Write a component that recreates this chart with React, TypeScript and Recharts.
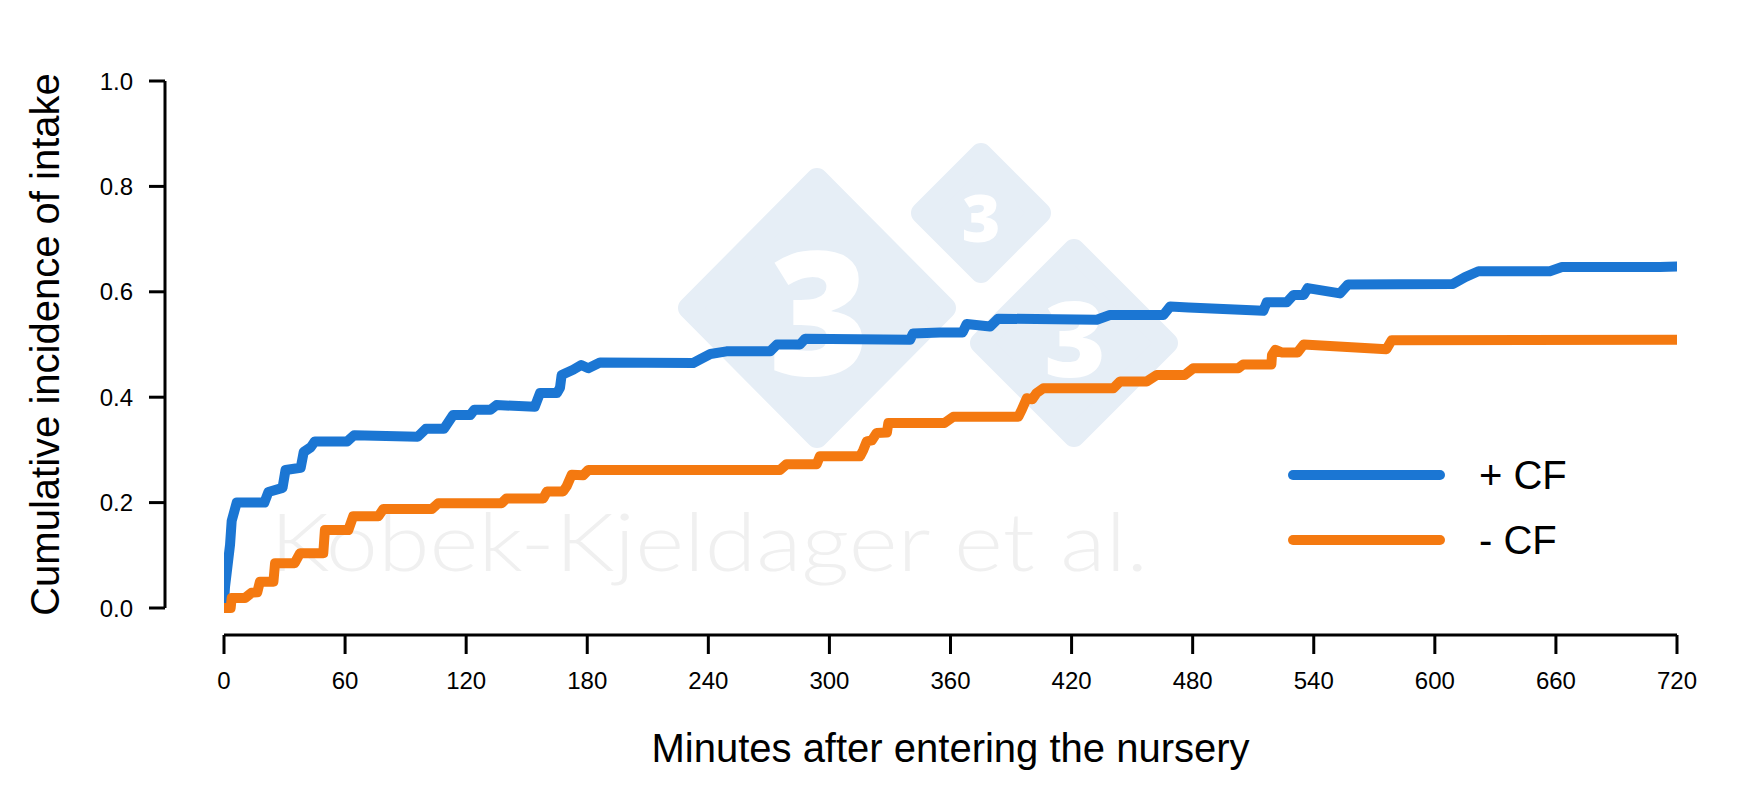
import React from 'react';
import { LineChart, Line, XAxis, YAxis, Legend } from 'recharts';

// ---------- data ----------
const minuteTicks = [0, 60, 120, 180, 240, 300, 360, 420, 480, 540, 600, 660, 720];
const incidenceTicks = [0, 0.2, 0.4, 0.6, 0.8, 1.0];

const seriesNames = ['+ CF', '- CF'];
const seriesColors = ['#1b76d3', '#f47910'];

const xTitle = 'Minutes after entering the nursery';
const yTitle = 'Cumulative incidence of intake';
const watermarkText = 'Kobek-Kjeldager et al.';
const watermarkDigit = '3';

const plusCfMinutes = [
  0, 0.5, 3, 3.8, 6.3, 20, 22, 29, 30.5, 38, 39.5, 43, 45, 61, 64.5, 96, 100, 109, 113.5,
  122, 124, 132, 135, 154, 156.6, 165, 166.5, 167.3, 173, 177, 180.5, 186.3, 232.5, 236,
  241, 249, 270.6, 274, 285.4, 288, 340, 341.4, 354.8, 366, 368, 379.6, 383.6, 432.5, 439,
  465.5, 468.8, 478, 515, 516.7, 526.6, 530, 535, 537, 553, 557, 609, 615, 621.6, 657, 663,
  711.6, 720,
];
const plusCfIncidence = [
  0.01, 0.04, 0.12, 0.165, 0.2, 0.2, 0.22, 0.228, 0.262, 0.266, 0.296, 0.305, 0.316, 0.316,
  0.328, 0.325, 0.34, 0.34, 0.366, 0.366, 0.376, 0.376, 0.385, 0.382, 0.408, 0.408, 0.418,
  0.442, 0.452, 0.461, 0.455, 0.466, 0.465, 0.472, 0.482, 0.487, 0.487, 0.5, 0.5, 0.511,
  0.509, 0.521, 0.523, 0.523, 0.539, 0.534, 0.549, 0.547, 0.556, 0.556, 0.572, 0.57, 0.564,
  0.58, 0.58, 0.594, 0.594, 0.607, 0.597, 0.614, 0.615, 0.628, 0.639, 0.639, 0.647, 0.647,
  0.648,
];

const minusCfMinutes = [
  0, 3.3, 3.8, 10.4, 13.7, 16.5, 17.8, 24.5, 25.3, 35, 37.7, 49.2, 50, 61.6, 64, 76.5, 79,
  103, 106.2, 137.6, 140, 158.2, 160, 168, 169.8, 172.3, 178, 180.5, 275.5, 278.8, 293.7,
  295.3, 315.2, 316.8, 318.5, 321, 323.4, 328.5, 329.2, 357, 361.4, 393.6, 395.3, 397.8,
  400.5, 402.7, 406, 440.7, 444, 457.2, 462.2, 476, 480.3, 502.6, 505, 519, 519.3, 521,
  524, 532, 535, 576, 578.6, 720,
];
const minusCfIncidence = [
  0, 0, 0.019, 0.019, 0.029, 0.03, 0.05, 0.05, 0.085, 0.085, 0.104, 0.104, 0.148, 0.148,
  0.174, 0.174, 0.188, 0.188, 0.199, 0.199, 0.208, 0.208, 0.221, 0.221, 0.231, 0.253, 0.252,
  0.262, 0.262, 0.273, 0.273, 0.288, 0.288, 0.3, 0.316, 0.318, 0.332, 0.333, 0.351, 0.351,
  0.363, 0.363, 0.376, 0.398, 0.396, 0.408, 0.417, 0.417, 0.43, 0.43, 0.442, 0.442, 0.455,
  0.455, 0.462, 0.462, 0.48, 0.49, 0.485, 0.485, 0.5, 0.491, 0.508, 0.509,
];

const plusData = plusCfMinutes.map((t, i) => ({ t, v: plusCfIncidence[i] }));
const minusData = minusCfMinutes.map((t, i) => ({ t, v: minusCfIncidence[i] }));

// ---------- styling ----------
const FONT = '"Liberation Sans", Arial, Helvetica, sans-serif';
const W = 1753;
const H = 807;

function YTitle(props: any) {
  const vb = props.viewBox || { x: 35, y: 81, width: 130, height: 527 };
  const x = vb.x + 24;
  const y = vb.y + vb.height / 2;
  return (
    <text
      x={x}
      y={y}
      transform={`rotate(-90, ${x}, ${y})`}
      textAnchor="middle"
      fontSize={40}
      fontFamily={FONT}
      fill="#000"
    >
      {yTitle}
    </text>
  );
}

function XTitle(props: any) {
  const vb = props.viewBox || { x: 224, y: 635, width: 1453, height: 150 };
  return (
    <text
      x={vb.x + vb.width / 2}
      y={vb.y + 127}
      textAnchor="middle"
      fontSize={40}
      fontFamily={FONT}
      fill="#000"
    >
      {xTitle}
    </text>
  );
}

function LegendContent(props: any) {
  const items = props.payload || [];
  return (
    <div style={{ display: 'flex', flexDirection: 'column' }}>
      {items.map((item: any, i: number) => (
        <div key={i} style={{ display: 'flex', alignItems: 'center', height: 65 }}>
          <svg width={190} height={20} style={{ display: 'block' }}>
            <line x1={10} y1={10} x2={157} y2={10} stroke={item.color} strokeWidth={10} strokeLinecap="round" />
          </svg>
          <span style={{ marginLeft: 6, fontSize: 40, fontFamily: FONT, color: '#000', lineHeight: '40px' }}>
            {item.value}
          </span>
        </div>
      ))}
    </div>
  );
}

function diamond(cx: number, cy: number, hw: number, hh: number, s: number) {
  const a = hw - s / 2;
  const b = hh - s / 2;
  return `${cx},${cy - b} ${cx + a},${cy} ${cx},${cy + b} ${cx - a},${cy}`;
}

function Watermark() {
  const fill = '#e6eef6';
  const s = 22;
  const digitFont = '"Open Sans", sans-serif';
  return (
    <svg width={W} height={H} style={{ position: 'absolute', left: 0, top: 0 }}>
      <polygon points={diamond(817, 308, 139, 140, s)} fill={fill} stroke={fill} strokeWidth={s} strokeLinejoin="round" />
      <polygon points={diamond(981, 213, 70, 70, s)} fill={fill} stroke={fill} strokeWidth={s} strokeLinejoin="round" />
      <polygon points={diamond(1074, 343, 104, 104, s)} fill={fill} stroke={fill} strokeWidth={s} strokeLinejoin="round" />
      <text x={819} y={308} textAnchor="middle" dominantBaseline="central" fontSize={172} fontWeight={800} fontFamily={digitFont} fill="#ffffff">
        {watermarkDigit}
      </text>
      <text x={981} y={216} textAnchor="middle" dominantBaseline="central" fontSize={66} fontWeight={800} fontFamily={digitFont} fill="#ffffff">
        {watermarkDigit}
      </text>
      <text x={1075} y={336} textAnchor="middle" dominantBaseline="central" fontSize={105} fontWeight={800} fontFamily={digitFont} fill="#ffffff">
        {watermarkDigit}
      </text>
      <text x={270} y={571} textLength={878} lengthAdjust="spacingAndGlyphs" fontSize={80} fontWeight={300} fontFamily='"Lato", "Open Sans", sans-serif' fill="#f0f0f0">
        {watermarkText}
      </text>
    </svg>
  );
}

export default function App() {
  const tickStyle = { fontSize: 24, fill: '#000', fontFamily: FONT };
  const axisStroke = { stroke: '#000', strokeWidth: 3 };
  return (
    <div style={{ position: 'absolute', left: 0, top: 0, width: W, height: H, background: '#fff', fontFamily: FONT }}>
      <Watermark />
      <div style={{ position: 'absolute', left: 0, top: 0 }}>
        <LineChart width={W} height={H} margin={{ top: 81, right: 76, bottom: 22, left: 35 }}>
          <XAxis xAxisId="a_pad" type="number" domain={[0, 1]} height={27} tick={false} axisLine={false} tickLine={false} />
          <XAxis
            xAxisId="b_main"
            type="number"
            dataKey="t"
            domain={[0, 720]}
            ticks={minuteTicks}
            allowDataOverflow
            height={150}
            tick={tickStyle}
            tickSize={19}
            tickMargin={18}
            axisLine={axisStroke}
            tickLine={axisStroke}
            label={{ content: XTitle }}
          />
          <YAxis yAxisId="a_pad" type="number" domain={[0, 1]} width={59} tick={false} axisLine={false} tickLine={false} />
          <YAxis
            yAxisId="b_main"
            type="number"
            domain={[0, 1]}
            ticks={incidenceTicks}
            width={130}
            tick={tickStyle}
            tickFormatter={(v: number) => v.toFixed(1)}
            tickSize={16}
            tickMargin={16}
            axisLine={axisStroke}
            tickLine={axisStroke}
            label={{ content: YTitle }}
          />
          <Legend
            layout="vertical"
            align="center"
            verticalAlign="middle"
            content={<LegendContent />}
            wrapperStyle={{ left: 1283, top: 442, width: 'auto', height: 'auto' }}
          />
          <Line
            xAxisId="b_main"
            yAxisId="b_main"
            data={plusData}
            dataKey="v"
            name={seriesNames[0]}
            type="linear"
            stroke={seriesColors[0]}
            strokeWidth={10}
            strokeLinecap="round"
            strokeLinejoin="round"
            dot={false}
            activeDot={false}
            isAnimationActive={false}
          />
          <Line
            xAxisId="b_main"
            yAxisId="b_main"
            data={minusData}
            dataKey="v"
            name={seriesNames[1]}
            type="linear"
            stroke={seriesColors[1]}
            strokeWidth={10}
            strokeLinecap="round"
            strokeLinejoin="round"
            dot={false}
            activeDot={false}
            isAnimationActive={false}
          />
        </LineChart>
      </div>
    </div>
  );
}
